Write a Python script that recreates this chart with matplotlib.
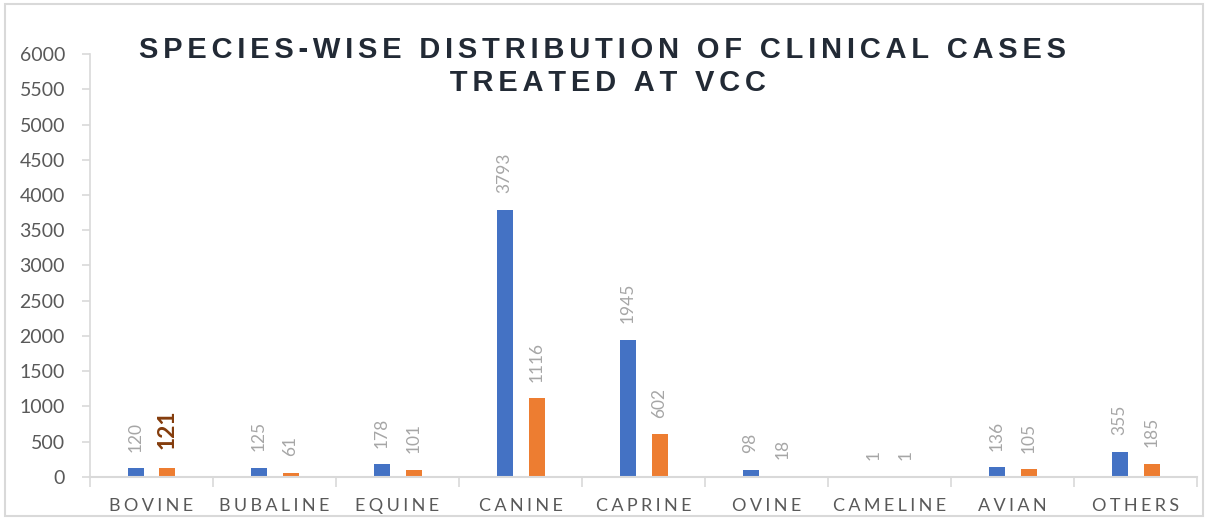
import matplotlib.pyplot as plt
from matplotlib.patches import Rectangle
import numpy as np

# DATI
species = ["BOVINE", "BUBALINE", "EQUINE", "CANINE", "CAPRINE",
           "OVINE", "CAMELINE", "AVIAN", "OTHERS"]
series_a = [120, 125, 178, 3793, 1945, 98, 1, 136, 355]
series_b = [121, 61, 101, 1116, 602, 18, 1, 105, 185]
y_ticks = [0, 500, 1000, 1500, 2000, 2500, 3000, 3500, 4000, 4500, 5000, 5500, 6000]
title = "SPECIES-WISE DISTRIBUTION OF CLINICAL CASES\nTREATED AT VCC"

# PARAMETRI
blue = "#4472C4"
orange = "#ED7D31"
grey_txt = "#595959"
lbl_col = "#a6a6a6"
w = 0.13


def spaced(s, sep="\u200a"):
    return sep.join(s)


plt.rcParams['font.family'] = ['Lato', 'DejaVu Sans']

fig = plt.figure(figsize=(12.08, 5.2), dpi=100)
ax = fig.add_axes([0.0745, 0.083, 0.9165, 0.813])

x = np.arange(len(species))
bars_a = ax.bar(x - w, series_a, width=w, color=blue, zorder=2)
bars_b = ax.bar(x + w, series_b, width=w, color=orange, zorder=2)

for b, v in zip(bars_a, series_a):
    ax.annotate(str(v), (b.get_x() + b.get_width() / 2, v), xytext=(0, 12),
                textcoords="offset points", rotation=90, ha="center", va="bottom",
                fontsize=12.5, color=lbl_col)
for i, (b, v) in enumerate(zip(bars_b, series_b)):
    if i == 0:
        ax.annotate(str(v), (b.get_x() + b.get_width() / 2, v), xytext=(0, 14),
                    textcoords="offset points", rotation=90, ha="center", va="bottom",
                    fontsize=16.5, color="#843C0C", fontweight="bold")
    else:
        ax.annotate(str(v), (b.get_x() + b.get_width() / 2, v), xytext=(0, 12),
                    textcoords="offset points", rotation=90, ha="center", va="bottom",
                    fontsize=12.5, color=lbl_col)

ax.set_xlim(-0.5, len(species) - 0.5)
ax.set_ylim(0, 6000)
ax.set_yticks(y_ticks)
ax.set_yticklabels([str(t) for t in y_ticks], fontsize=14, color=grey_txt)
ax.set_xticks(x)
ax.set_xticklabels([spaced(s, "\u2009\u200a") for s in species], fontsize=13, color=grey_txt)
ax.tick_params(axis="x", length=0, pad=15)
ax.set_xticks(np.arange(-0.5, len(species), 1), minor=True)
ax.tick_params(axis="x", which="minor", length=7, color="#d9d9d9", width=1.2)
ax.tick_params(axis="y", length=6, color="#d9d9d9", width=1.2, pad=12)

for s in ["top", "right"]:
    ax.spines[s].set_visible(False)
ax.spines["left"].set_color("#d9d9d9")
ax.spines["left"].set_linewidth(1.2)
ax.spines["bottom"].set_color("#d9d9d9")
ax.spines["bottom"].set_linewidth(1.5)

fig.text(0.501, 0.825, spaced(title, "\u200a\u200a"), ha="center", va="baseline",
         fontsize=21, fontweight="bold", color="#222a35", linespacing=1.25,
         family=["Liberation Sans", "DejaVu Sans"])

fig.patches.append(Rectangle((0.004, 0.008), 0.992, 0.984, transform=fig.transFigure,
                             fill=False, edgecolor="#d9d9d9", linewidth=1.5))

plt.savefig("out.png", dpi=100)
